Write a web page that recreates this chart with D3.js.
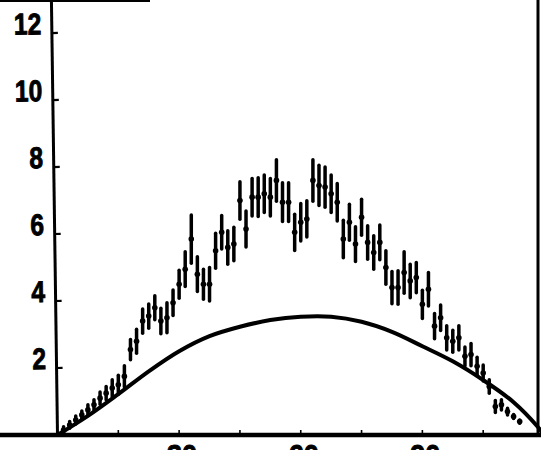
<!DOCTYPE html>
<html>
<head>
<meta charset="utf-8">
<script src="https://cdn.jsdelivr.net/npm/d3@7"></script>
<style>
  body { margin: 0; background: #fff; }
  svg { display: block; }
</style>
</head>
<body>
<div id="chart"></div>
<script>
// measured points (x in axis units, y value, half error)
var angles = [1.5, 3, 4.5, 6, 7.5, 9, 10.5, 12, 13.5, 15, 16.5, 18, 19.5, 21, 22.5, 24, 25.5, 27, 28.5, 30,
  31.5, 33, 34.5, 36, 37.5, 39, 40.5, 42, 43.5, 45, 46.5, 48, 49.5, 51, 52.5, 54, 55.5, 57, 58.5, 60,
  61.5, 63, 64.5, 66, 67.5, 69, 70.5, 72, 73.5, 75, 76.5, 78, 79.5, 81, 82.5, 84, 85.5, 87, 88.5, 90,
  91.5, 93, 94.5, 96, 97.5, 99, 100.5, 102, 103.5, 105, 106.5, 108, 109.5, 111, 112.5, 114];
var counts = [0.15, 0.30, 0.45, 0.60, 0.75, 0.90, 1.10, 1.25, 1.40, 1.50, 1.75, 2.55, 2.80, 3.40, 3.55, 3.80, 3.40, 3.50, 3.95, 4.50,
  4.95, 5.85, 4.80, 4.50, 4.50, 5.50, 6.05, 5.60, 5.70, 7.00, 6.15, 7.10, 7.10, 7.20, 7.10, 7.60, 6.95, 6.95, 6.05, 6.35,
  6.45, 7.60, 7.45, 7.40, 7.20, 6.95, 5.85, 6.35, 5.70, 6.50, 5.75, 5.45, 5.75, 5.00, 4.40, 4.40, 4.85, 4.60, 4.70, 3.90,
  4.35, 3.25, 3.50, 2.90, 2.80, 2.90, 2.35, 2.40, 2.05, 1.85, 1.45, 0.85, 0.90, 0.70, 0.55, 0.40];
var errors = [0.10, 0.10, 0.12, 0.12, 0.15, 0.15, 0.18, 0.20, 0.25, 0.28, 0.32, 0.30, 0.36, 0.36, 0.36, 0.36, 0.38, 0.45, 0.38, 0.42,
  0.52, 0.72, 0.52, 0.45, 0.50, 0.52, 0.50, 0.50, 0.50, 0.56, 0.54, 0.56, 0.58, 0.56, 0.56, 0.62, 0.58, 0.58, 0.54, 0.56,
  0.54, 0.62, 0.60, 0.60, 0.56, 0.56, 0.56, 0.54, 0.52, 0.54, 0.50, 0.50, 0.52, 0.50, 0.48, 0.50, 0.62, 0.50, 0.45, 0.42,
  0.50, 0.38, 0.38, 0.36, 0.33, 0.36, 0.28, 0.33, 0.27, 0.24, 0.20, 0.18, 0.15, 0.10, 0.06, 0.05];

// calculated curve
var curveX = [0, 7.5, 15, 22.5, 30, 37.5, 45, 52.5, 60, 67.5, 75, 82.5, 90, 97.5, 105, 112.5, 118.5, 120];
var curveY = [0, 0.57, 1.22, 1.90, 2.50, 2.95, 3.23, 3.43, 3.53, 3.53, 3.38, 3.08, 2.65, 2.20, 1.64, 0.98, 0.24, 0];

var yTicks = [2, 4, 6, 8, 10, 12];
var xTicks = [15, 30, 45, 60, 75, 90, 105];
var xLabelTicks = [30, 60, 90];

var width = 541, height = 450;

var svg = d3.select("#chart").append("svg")
    .attr("width", width)
    .attr("height", height);

var x = d3.scaleLinear().domain([0, 120]).range([57.5, 544]);
var y = d3.scaleLinear().domain([0, 12]).range([435, 33]);

var font = "'Liberation Sans', Arial, sans-serif";

// frame bits from the scan
svg.append("line")
    .attr("x1", 0).attr("x2", 150)
    .attr("y1", 1).attr("y2", 1)
    .attr("stroke", "#000").attr("stroke-width", 2);

svg.append("line")
    .attr("x1", 538).attr("x2", 538)
    .attr("y1", 0).attr("y2", y(0))
    .attr("stroke", "#000").attr("stroke-width", 3);

// y axis, slightly tilted like the original
var yAxis = svg.append("g")
    .attr("transform", "rotate(-0.8," + x(0) + "," + y(0) + ")");

yAxis.append("line")
    .attr("x1", x(0)).attr("x2", x(0))
    .attr("y1", 0).attr("y2", y(0))
    .attr("stroke", "#000").attr("stroke-width", 3);

yAxis.selectAll(".ytick")
    .data(yTicks)
    .enter().append("line")
    .attr("class", "ytick")
    .attr("x1", x(0)).attr("x2", x(0) + 6)
    .attr("y1", function(d) { return y(d); })
    .attr("y2", function(d) { return y(d); })
    .attr("stroke", "#000").attr("stroke-width", 2.2);

// condensed heavy digits, as on the old plot
yAxis.selectAll(".ylabel")
    .data(yTicks)
    .enter().append("text")
    .attr("class", "ylabel")
    .attr("transform", function(d) { return "translate(47," + (y(d) + 1) + ") scale(0.82,1)"; })
    .attr("text-anchor", "end")
    .attr("fill", "#000")
    .attr("stroke", "#000")
    .attr("stroke-width", 0.9)
    .style("font-family", font)
    .style("font-weight", "bold")
    .style("font-size", "30px")
    .text(function(d) { return d; });

// x axis
svg.append("line")
    .attr("x1", 0).attr("x2", width)
    .attr("y1", y(0)).attr("y2", y(0))
    .attr("stroke", "#000").attr("stroke-width", 4.5);

svg.selectAll(".xtick")
    .data(xTicks)
    .enter().append("line")
    .attr("class", "xtick")
    .attr("x1", function(d) { return x(d); })
    .attr("x2", function(d) { return x(d); })
    .attr("y1", y(0)).attr("y2", y(0) - 5)
    .attr("stroke", "#000").attr("stroke-width", 1.6);

// labels below the axis, mostly cut off by the page edge like the scan
svg.selectAll(".xlabel")
    .data(xLabelTicks)
    .enter().append("text")
    .attr("class", "xlabel")
    .attr("transform", function(d) { return "translate(" + (x(d) + 3) + ",465) scale(0.9,1)"; })
    .attr("text-anchor", "middle")
    .attr("stroke", "#000")
    .attr("stroke-width", 0.9)
    .style("font-family", font)
    .style("font-weight", "bold")
    .style("font-size", "30px")
    .text(function(d) { return d; });

// theory curve
var line = d3.line()
    .x(function(d) { return x(d[0]); })
    .y(function(d) { return y(d[1]); })
    .curve(d3.curveCatmullRom);

svg.append("path")
    .datum(d3.zip(curveX, curveY))
    .attr("d", line)
    .attr("fill", "none")
    .attr("stroke", "#000")
    .attr("stroke-width", 4);

// data points with error bars
var pts = svg.selectAll(".pt")
    .data(d3.zip(angles, counts, errors))
    .enter().append("g")
    .attr("class", "pt");

pts.append("line")
    .attr("x1", function(d) { return x(d[0]); })
    .attr("x2", function(d) { return x(d[0]); })
    .attr("y1", function(d) { return y(d[1] + d[2]); })
    .attr("y2", function(d) { return y(d[1] - d[2]); })
    .attr("stroke", "#000")
    .attr("stroke-width", 3.5)
    .attr("stroke-linecap", "round");

pts.append("circle")
    .attr("cx", function(d) { return x(d[0]); })
    .attr("cy", function(d) { return y(d[1]); })
    .attr("r", 2.8)
    .attr("fill", "#000");
</script>
</body>
</html>
